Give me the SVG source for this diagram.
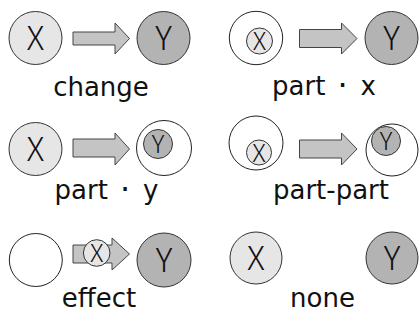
<svg xmlns="http://www.w3.org/2000/svg" width="419" height="320" viewBox="0 0 419 320">
<style>
.cx{fill:#e6e6e6;stroke:#333;stroke-width:1}
.cy{fill:#b3b3b3;stroke:#333;stroke-width:1}
.cw{fill:#fff;stroke:#222;stroke-width:1}
.ar{fill:#c4c4c4;stroke:#444;stroke-width:1}
.big{font-family:"Noto Sans CJK JP","DejaVu Sans",sans-serif;font-weight:300;font-size:33px;text-anchor:middle;fill:#111}
.sm{font-family:"Noto Sans CJK JP","DejaVu Sans",sans-serif;font-weight:300;font-size:25px;text-anchor:middle;fill:#111}
.lb{font-family:"DejaVu Sans",sans-serif;font-size:26px;text-anchor:middle;fill:#111}
.dot{font-size:32px}
</style>
<rect width="419" height="320" fill="#fff"/>
<g id="connectors">
<path class="ar" d="M73,32H115V23L129.5,38.5L115,54V45H73Z"/>
<path class="ar" d="M299.5,29.5H341.5V23L357,38.5L341.5,54V47.5H299.5Z"/>
<path class="ar" d="M73,139H115V133L129.5,149L115,165V157H73Z"/>
<path class="ar" d="M299.5,140H341.5V133L357,149L341.5,165V158H299.5Z"/>
<path class="ar" d="M73,245H112V238L129.5,254L112,270V263H73Z"/>
</g>
<g id="change">
<circle class="cx" cx="35.5" cy="38" r="26.5"/><text class="big" x="35.5" y="50">X</text>
<circle class="cy" cx="163.5" cy="38" r="26.5"/><text class="big" x="163.5" y="50">Y</text>
<text class="lb" x="101" y="96">change</text>
</g>
<g id="part-x">
<circle class="cw" cx="256" cy="38" r="26.7"/>
<circle class="cx" cx="259.5" cy="41" r="13"/><text class="sm" x="259.5" y="50">X</text>
<circle class="cy" cx="391.5" cy="38" r="26.5"/><text class="big" x="391.5" y="50">Y</text>
<text class="lb" x="324" y="95">part<tspan class="dot" dx="12" dy="1">·</tspan><tspan dx="13" dy="-1">x</tspan></text>
</g>
<g id="part-y">
<circle class="cx" cx="35.5" cy="149" r="26.5"/><text class="big" x="35.5" y="161">X</text>
<circle class="cw" cx="164" cy="148" r="27.5"/>
<circle class="cy" cx="158" cy="144" r="14.5"/><text class="sm" x="158" y="153">Y</text>
<text class="lb" x="106.5" y="199">part<tspan class="dot" dx="12" dy="1">·</tspan><tspan dx="13" dy="-1">y</tspan></text>
</g>
<g id="part-part">
<circle class="cw" cx="256" cy="143" r="27"/>
<circle class="cx" cx="259" cy="152.5" r="12.5"/><text class="sm" x="259" y="161.5">X</text>
<circle class="cw" cx="392" cy="150" r="26"/>
<circle class="cy" cx="386" cy="141" r="14.5"/><text class="sm" x="386" y="150">Y</text>
<text class="lb" x="331" y="199">part-part</text>
</g>
<g id="effect">
<circle class="cw" cx="35.8" cy="260" r="26.5"/>
<circle class="cx" cx="96.7" cy="253" r="13.3"/><text class="sm" x="96.7" y="262">X</text>
<circle class="cy" cx="164" cy="260" r="27"/><text class="big" x="164" y="272">Y</text>
<text class="lb" x="99" y="307">effect</text>
</g>
<g id="none">
<circle class="cx" cx="256" cy="258" r="26"/><text class="big" x="256" y="270">X</text>
<circle class="cy" cx="392" cy="258" r="26"/><text class="big" x="392" y="270">Y</text>
<text class="lb" x="322.5" y="307">none</text>
</g>
</svg>
